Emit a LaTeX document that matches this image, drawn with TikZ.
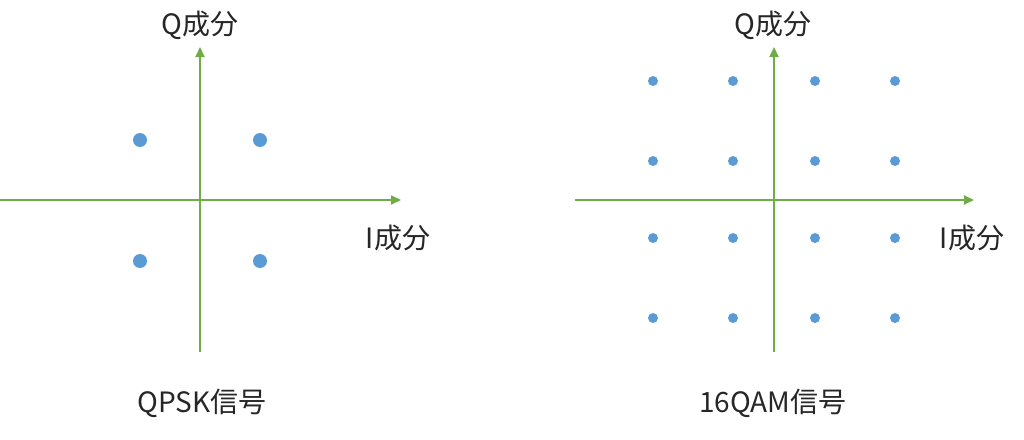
\documentclass[tikz,border=0pt]{standalone}
\usepackage{fontspec}
\setmainfont{Noto Sans CJK JP}
\usetikzlibrary{arrows.meta}

\definecolor{axisgreen}{RGB}{112,173,71}
\definecolor{dotblue}{RGB}{91,155,213}

\tikzset{
    axis/.style={draw=axisgreen, line width=2pt, -{Triangle[length=10pt,width=9pt]}},
    bigdot/.style={circle, fill=dotblue, inner sep=0pt, minimum size=14pt},
    smalldot/.style={circle, fill=dotblue, inner sep=0pt, minimum size=10pt},
    lbl/.style={font=\fontsize{28}{32}\selectfont, text=black!85, inner sep=0pt},
}

\begin{document}
\begin{tikzpicture}[x=1pt, y=-1pt]
    \useasboundingbox (0,0) rectangle (1024,439);

    % QPSK
    \coordinate (QW) at (0,200); \coordinate (QE) at (401,200);
    \coordinate (QS) at (200,352); \coordinate (QN) at (200,47);
    \draw[axis] (QW) -- (QE);
    \draw[axis] (QS) -- (QN);
    \node[lbl] (Qq) at (200,25) {Q成分};
    \node[lbl] (Qi) at (398,238) {I成分};
    \node[lbl] (Qname) at (202,403) {QPSK信号};
    \foreach \x in {140,260}
        \foreach \y in {140,261}
            \node[bigdot] (q\x\y) at (\x,\y) {};

    % 16QAM
    \coordinate (MW) at (575,200); \coordinate (ME) at (974,200);
    \coordinate (MS) at (774,352); \coordinate (MN) at (774,47);
    \draw[axis] (MW) -- (ME);
    \draw[axis] (MS) -- (MN);
    \node[lbl] (Mq) at (773,25) {Q成分};
    \node[lbl] (Mi) at (972,238) {I成分};
    \node[lbl] (Mname) at (773,403) {16QAM信号};
    \foreach \x in {653,733,815,895}
        \foreach \y in {81,161,238,318}
            \node[smalldot] (m\x\y) at (\x,\y) {};

\end{tikzpicture}
\end{document}
